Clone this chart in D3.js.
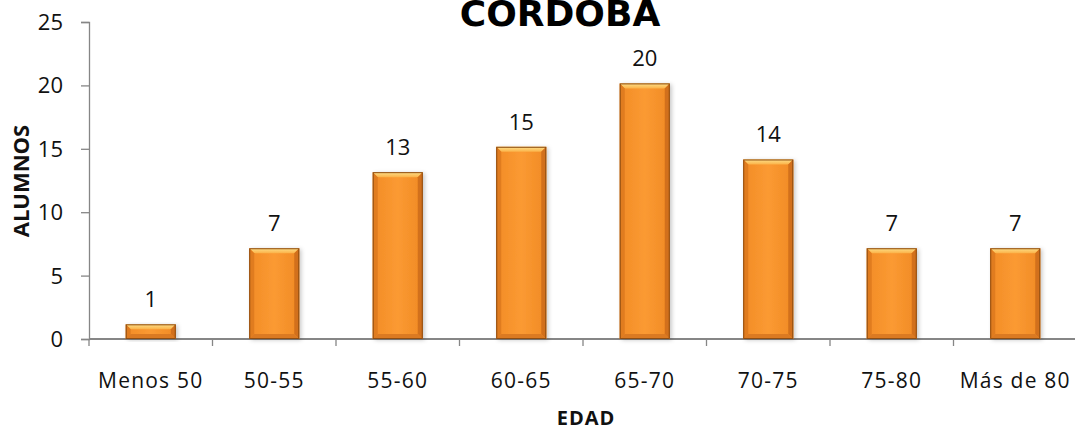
<!DOCTYPE html>
<html>
<head>
<meta charset="utf-8">
<script src="https://cdn.jsdelivr.net/npm/d3@7"></script>
<style>
  html, body { margin: 0; padding: 0; background: #fff; }
  svg { display: block; }
</style>
</head>
<body>
<svg id="chart"></svg>
<script>
// ── Data ─────────────────────────────────────────────
const categories = ['Menos 50', '50-55', '55-60', '60-65', '65-70', '70-75', '75-80', 'Más de 80'];
const alumnos    = [1, 7, 13, 15, 20, 14, 7, 7];
const yTicks     = [0, 5, 10, 15, 20, 25];

const W = 1075, H = 430;
const FONT = '"Open Sans", "Noto Sans", "DejaVu Sans", sans-serif';
const AXIS = '#868686';

const svg = d3.select('#chart').attr('width', W).attr('height', H);

// ── Scales ────────────────────────────────────────────
const x = d3.scaleBand()
  .domain(categories)
  .range([89, 1077])
  .paddingInner(0.595)
  .paddingOuter(0.2975);

const y = d3.scaleLinear()
  .domain([0, 25])
  .range([339, 22]);

// ── Defs: gradients and shadow ────────────────────────
const defs = svg.append('defs');

const body = defs.append('linearGradient').attr('id', 'barBody')
  .attr('x1', 0).attr('x2', 1).attr('y1', 0).attr('y2', 0);
[[0, '#f28c27'], [0.5, '#fb9a32'], [1, '#f08a25']].forEach(([o, c]) =>
  body.append('stop').attr('offset', o).attr('stop-color', c));

const topG = defs.append('linearGradient').attr('id', 'barTop')
  .attr('x1', 0).attr('x2', 0).attr('y1', 0).attr('y2', 1);
[[0, '#fde08a'], [1, '#fbb248']].forEach(([o, c]) =>
  topG.append('stop').attr('offset', o).attr('stop-color', c));

const shadow = defs.append('filter').attr('id', 'shadow')
  .attr('x', '-20%').attr('y', '-10%').attr('width', '150%').attr('height', '130%');
shadow.append('feDropShadow')
  .attr('dx', 2).attr('dy', 1).attr('stdDeviation', 2)
  .attr('flood-color', '#000').attr('flood-opacity', 0.22);

// ── Y axis ────────────────────────────────────────────
const yAxis = svg.append('g')
  .attr('transform', `translate(${x.range()[0]},0)`)
  .call(d3.axisLeft(y).tickValues(yTicks).tickSize(8).tickPadding(18));
yAxis.select('.domain').attr('stroke', AXIS).attr('stroke-width', 1.3);
yAxis.selectAll('.tick line').attr('stroke', AXIS).attr('stroke-width', 1.3);
yAxis.selectAll('text')
  .attr('fill', '#111').attr('font-size', 22).attr('font-family', FONT)
  .attr('dy', '0.34em');

// ── X axis (ticks at category boundaries) ─────────────
const xAxis = svg.append('g').attr('transform', `translate(0,${y(0)})`);
xAxis.append('line')
  .attr('x1', x.range()[0]).attr('x2', x.range()[1])
  .attr('stroke', AXIS).attr('stroke-width', 2.2);
const step = x.step();
d3.range(categories.length).forEach(i => {
  const bx = x(categories[i]) - x.paddingOuter() * step;
  xAxis.append('line')
    .attr('x1', bx).attr('x2', bx).attr('y1', 0).attr('y2', 7)
    .attr('stroke', AXIS).attr('stroke-width', 1.3);
});
xAxis.selectAll('.cat')
  .data(categories)
  .join('text')
    .attr('class', 'cat')
    .attr('x', d => x(d) + x.bandwidth() / 2)
    .attr('y', 49)
    .attr('text-anchor', 'middle')
    .attr('fill', '#111')
    .attr('font-size', 21)
    .attr('letter-spacing', 1.2)
    .attr('font-family', FONT)
    .text(d => d);

// ── Bars with bevel ───────────────────────────────────
const b = 5;
const bars = svg.append('g').selectAll('g.bar')
  .data(categories.map((c, i) => ({ cat: c, v: alumnos[i] })))
  .join('g').attr('class', 'bar');

bars.each(function(d) {
  const g = d3.select(this);
  const x0 = x(d.cat), w = x.bandwidth();
  const y0 = y(d.v) - 2, y1 = y(0);
  const h = y1 - y0;
  const bv = Math.min(b, h / 3);

  g.append('rect')
    .attr('x', x0).attr('y', y0).attr('width', w).attr('height', h)
    .attr('fill', 'url(#barBody)')
    .attr('filter', 'url(#shadow)');

  // top bevel
  g.append('polygon')
    .attr('points', [[x0, y0], [x0 + w, y0], [x0 + w - bv, y0 + bv], [x0 + bv, y0 + bv]].join(' '))
    .attr('fill', 'url(#barTop)');
  // left bevel
  g.append('polygon')
    .attr('points', [[x0, y0], [x0 + bv, y0 + bv], [x0 + bv, y1 - bv], [x0, y1]].join(' '))
    .attr('fill', '#e07c1f');
  // right bevel
  g.append('polygon')
    .attr('points', [[x0 + w, y0], [x0 + w - bv, y0 + bv], [x0 + w - bv, y1 - bv], [x0 + w, y1]].join(' '))
    .attr('fill', '#d2701c');
  // bottom bevel
  g.append('polygon')
    .attr('points', [[x0, y1], [x0 + bv, y1 - bv], [x0 + w - bv, y1 - bv], [x0 + w, y1]].join(' '))
    .attr('fill', '#db7a22');

  g.append('rect')
    .attr('x', x0 + 0.5).attr('y', y0 + 0.5).attr('width', w - 1).attr('height', h - 1)
    .attr('fill', 'none')
    .attr('stroke', '#8e4d12')
    .attr('stroke-width', 1);
});

// ── Data labels ───────────────────────────────────────
svg.append('g').selectAll('text')
  .data(categories.map((c, i) => ({ cat: c, v: alumnos[i] })))
  .join('text')
    .attr('x', d => x(d.cat) + x.bandwidth() / 2)
    .attr('y', d => y(d.v) - 19)
    .attr('text-anchor', 'middle')
    .attr('fill', '#111')
    .attr('font-size', 22)
    .attr('font-family', FONT)
    .text(d => d.v);

// ── Titles ────────────────────────────────────────────
svg.append('text')
  .attr('x', 560).attr('y', 26)
  .attr('text-anchor', 'middle')
  .attr('fill', '#000')
  .attr('font-size', 36)
  .attr('font-weight', 'bold')
  .attr('font-family', '"DejaVu Sans", sans-serif')
  .text('CORDOBA');

svg.append('text')
  .attr('transform', 'rotate(-90)')
  .attr('x', -181).attr('y', 29)
  .attr('text-anchor', 'middle')
  .attr('fill', '#111')
  .attr('font-size', 22)
  .attr('font-weight', 'bold')
  .attr('font-family', FONT)
  .text('ALUMNOS');

svg.append('text')
  .attr('x', 586).attr('y', 425)
  .attr('text-anchor', 'middle')
  .attr('fill', '#111')
  .attr('font-size', 20)
  .attr('font-weight', 'bold')
  .attr('letter-spacing', 1)
  .attr('font-family', FONT)
  .text('EDAD');
</script>
</body>
</html>
